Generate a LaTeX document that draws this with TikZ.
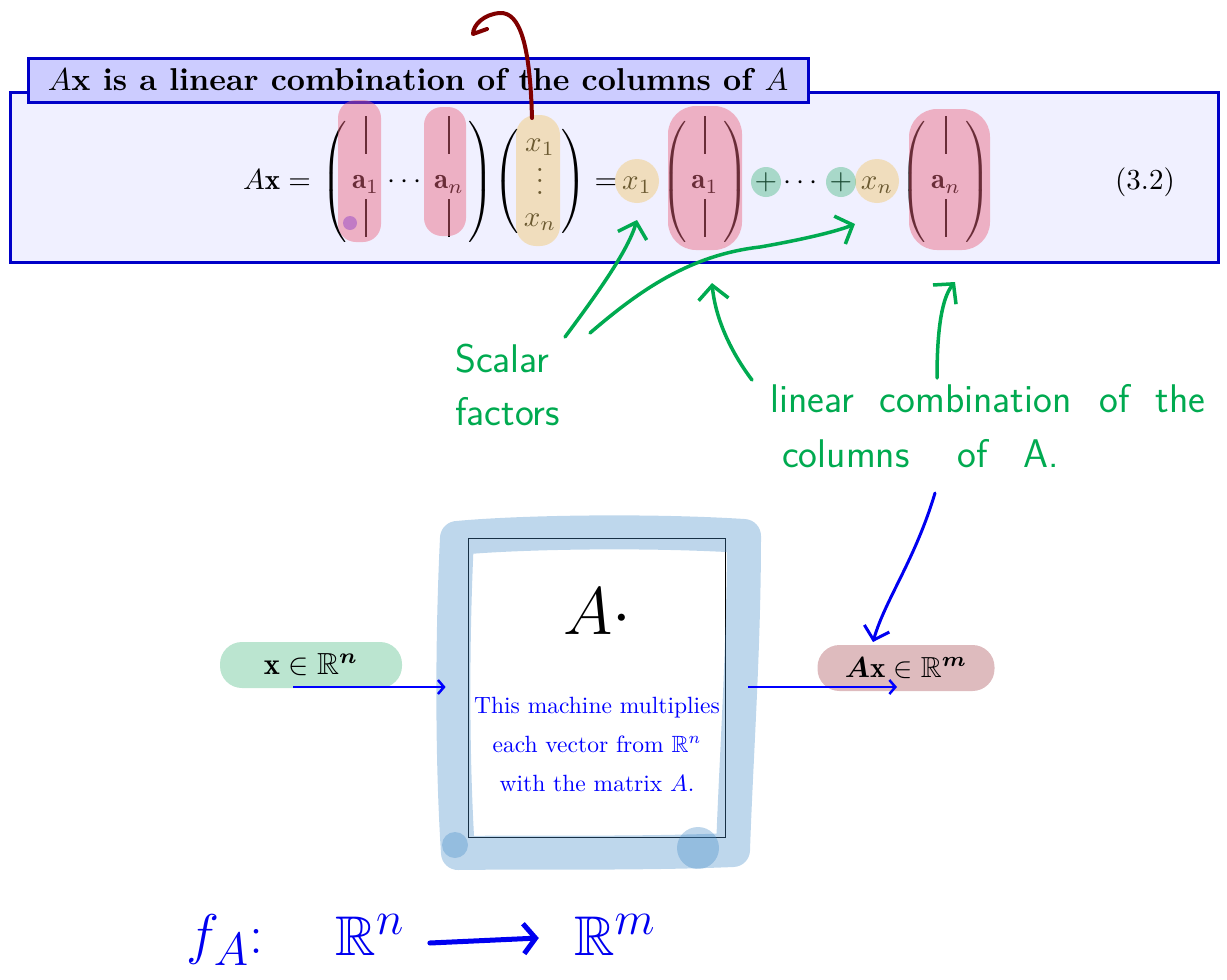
\documentclass[tikz,border=0pt]{standalone}
\usepackage{graphicx}
\usepackage{amsmath,amssymb,bm}
\usepackage{fontspec}
\usetikzlibrary{arrows.meta,calc}
\definecolor{hdrblue}{RGB}{0,0,200}
\definecolor{hdrfill}{RGB}{204,204,255}
\definecolor{panelfill}{RGB}{240,240,255}
\definecolor{hlpink}{RGB}{235,100,125}
\definecolor{hlyellow}{RGB}{240,200,110}
\definecolor{hlgreen}{RGB}{60,180,120}
\definecolor{hlblue}{RGB}{70,140,200}
\definecolor{hlbrown}{RGB}{160,60,70}
\definecolor{hlpurple}{RGB}{140,60,200}
\definecolor{inkgreen}{RGB}{0,170,80}
\definecolor{inkblue}{RGB}{0,0,240}
\definecolor{inkred}{RGB}{128,0,0}
\newcommand{\vbarcol}{\rule{0.6pt}{13pt}}
\newcommand{\eqs}[1]{\scalebox{2.9}{#1}}
\newcommand{\dsc}[1]{\scalebox{2.35}{#1}}
\begin{document}
\begin{tikzpicture}[x=1pt,y=-1pt,
  eq/.style={inner sep=0pt, anchor=base},
  panel/.style={draw=hdrblue, line width=3pt, fill=panelfill},
  header/.style={draw=hdrblue, line width=3pt, fill=hdrfill, minimum width=780pt, minimum height=44pt, inner sep=0pt},
  hlpinkfill/.style={fill=hlpink, fill opacity=0.45},
  hlyellowfill/.style={fill=hlyellow, fill opacity=0.45},
  hlgreenfill/.style={fill=hlgreen, fill opacity=0.4},
  greenink/.style={draw=inkgreen, line width=3.5pt, line cap=round, line join=round},
  greenarrow/.style={greenink, -{Straight Barb[length=14pt, width=30pt]}},
  greentext/.style={text=inkgreen, font=\fontsize{40}{53}\selectfont\sffamily, inner sep=0pt, anchor=base west},
  blueink/.style={draw=inkblue, line width=3pt, line cap=round, line join=round},
  flowarrow/.style={draw=blue, line width=2.5pt, -{Straight Barb[length=6pt, width=14pt]}},
  pill/.style={rounded corners=22pt, minimum height=46pt, inner sep=0pt},
  bigblue/.style={text=inkblue, font=\Huge, scale=2.25, inner sep=0pt},
]
\useasboundingbox (0,0) rectangle (1227,980);

% ---------- top panel ----------
\node[panel, minimum width=1208pt, minimum height=170pt, inner sep=0pt] (panel) at (614,177) {};
\node[header] (head) at (418,80) {\scalebox{3.16}{\bfseries $A$x is a linear combination of the columns of $A$}};

\node[eq] (lhs) at (277,189) {\eqs{$A\mathbf{x} =$}};
\node[eq] (matA) at (408,189) {\eqs{$\left(\begin{array}{@{\,}c@{\;}c@{\;}c@{\,}}\vbarcol&&\vbarcol\\ \mathbf{a}_1&\cdots&\mathbf{a}_n\\ \vbarcol&&\vbarcol\end{array}\right)$}};
\node[eq] (vecx) at (540,189) {\eqs{$\left(\begin{array}{@{\,}c@{\,}}x_1\\[1pt] \smash{\lower2pt\hbox{$\vdots$}}\\[1pt] x_n\end{array}\right)$}};
\node[eq] (eq2) at (606,189) {\eqs{$=$}};
\node[eq] (x1) at (637,189) {\eqs{$x_1$}};
\node[eq] (mat1) at (705,189) {\eqs{$\left(\begin{array}{@{\,}c@{\,}}\vbarcol\\ \mathbf{a}_1\\ \vbarcol\end{array}\right)$}};
\node[eq] (plus1) at (766,189) {\eqs{$+$}};
\node[eq] (dots) at (803,189) {\eqs{$\cdots$}};
\node[eq] (plus2) at (841,189) {\eqs{$+$}};
\node[eq] (xn) at (877,189) {\eqs{$x_n$}};
\node[eq] (matn) at (946,189) {\eqs{$\left(\begin{array}{@{\,}c@{\,}}\vbarcol\\ \mathbf{a}_n\\ \vbarcol\end{array}\right)$}};
\node[eq] (eqno) at (1145,189) {\eqs{$(3.2)$}};

% highlights
\fill[hlpinkfill, rounded corners=18pt] (338,100) rectangle (381,242);
\fill[hlpinkfill, rounded corners=18pt] (424,107) rectangle (466,236);
\fill[hlyellowfill, rounded corners=20pt] (516,115) rectangle (560,246);
\fill[hlyellowfill] (637,181) circle[radius=22pt];
\fill[hlyellowfill] (877,181) circle[radius=22pt];
\fill[hlgreenfill] (766,182) circle[radius=15pt];
\fill[hlgreenfill] (841,182) circle[radius=15pt];
\fill[hlpinkfill, rounded corners=28pt] (668,106) rectangle (742,250);
\fill[hlpinkfill, rounded corners=28pt] (909,109) rectangle (990,250);
\fill[fill=hlpurple, fill opacity=0.45] (350,223) circle[radius=7pt];

% dark red stroke
\coordinate (redtop) at (532,118);
\draw[draw=inkred, line width=4pt, line cap=round, line join=round]
  (redtop) .. controls (530,45) and (520,12) .. (500,13)
  .. controls (484,14) and (473,25) .. (473,34) -- (487,29);

% ---------- green annotations ----------
\node[greentext, align=left] (scalar) at (455,425) {Scalar\\factors};
\node[greentext] (lc1) at (770,412) {linear\hspace{26pt}combination\hspace{28pt}of\hspace{26pt}the};
\node[greentext] (lc2) at (782,467) {columns\hspace{48pt}of\hspace{36pt}A.};

\coordinate (s1) at (565,337);
\coordinate (s2) at (590,333);
\coordinate (l1) at (752,380);
\coordinate (l2) at (937,378);
\coordinate (l3) at (935,493);
\draw[greenarrow] (s1) .. controls (600,290) and (628,250) .. (637,220);
\draw[greenarrow] (s2) .. controls (640,290) and (690,255) .. (760,247) .. controls (800,240) and (835,232) .. (855,224);
\draw[greenarrow] (l1) .. controls (728,348) and (715,315) .. (712,283);
\draw[greenarrow] (l2) .. controls (937,340) and (940,300) .. (955,282);

% ---------- machine ----------
\node[draw=black, line width=0.8pt, fill=white, minimum width=257pt, minimum height=299pt, inner sep=0pt] (box) at (596.5,687.5) {};
\draw[draw=hlblue, draw opacity=0.35, line width=34pt, line join=round, line cap=round]
  (457,538) .. controls (520,532) and (650,530) .. (744,536)
  .. controls (744,650) and (736,760) .. (733,850)
  .. controls (640,854) and (520,852) .. (458,853)
  .. controls (452,760) and (452,640) .. (457,538);
\fill[fill=hlblue, fill opacity=0.35] (455,845) circle[radius=13pt];
\fill[fill=hlblue, fill opacity=0.35] (698,848) circle[radius=21pt];

\node[font=\Huge, scale=2.7, inner sep=0pt] (Adot) at (597,612) {$A\cdot$};
\node[align=center, text=blue, font=\fontsize{10}{39}\selectfont, inner sep=0pt] (desc) at (597,744) {\dsc{This machine multiplies}\\ \dsc{each vector from $\mathbb{R}^n$}\\ \dsc{with the matrix $A$.}};

\node[pill, fill=hlgreen, fill opacity=0.35, text opacity=1, minimum width=182pt] (xin) at (311,665) {\scalebox{3.05}{$\mathbf{x}\in\mathbb{R}^{\bm{n}}$}\hspace{8pt}};
\node[pill, fill=hlbrown, fill opacity=0.35, text opacity=1, minimum width=177pt] (xout) at (906,668) {\eqs{$\bm{A}\mathbf{x}\in\mathbb{R}^{\bm{m}}$}\hspace{20pt}};

\coordinate (inarrow) at (293,687);
\draw[flowarrow] (inarrow) -- ($(box.west |- inarrow)+(-22,0)$);
\draw[flowarrow] ($(box.east |- inarrow)+(23,0)$) -- (897,687);

% blue annotation arrow
\draw[blueink, -{Straight Barb[length=12pt, width=26pt]}] (l3) .. controls (915,560) and (885,600) .. (873,642);

% ---------- bottom formula ----------
\node[bigblue] (fA) at (225,940) {$f_A{:}$};
\node[bigblue] (Rn) at (370,935) {$\mathbb{R}^{n}$};
\node[bigblue] (Rm) at (615,935) {$\mathbb{R}^{m}$};
\draw[draw=inkblue, line width=5pt, line cap=round, -{Straight Barb[length=12pt, width=30pt]}] ($(Rn.east)+(25,8)$) -- ($(Rm.west)+(-35,3)$);
\end{tikzpicture}
\end{document}
